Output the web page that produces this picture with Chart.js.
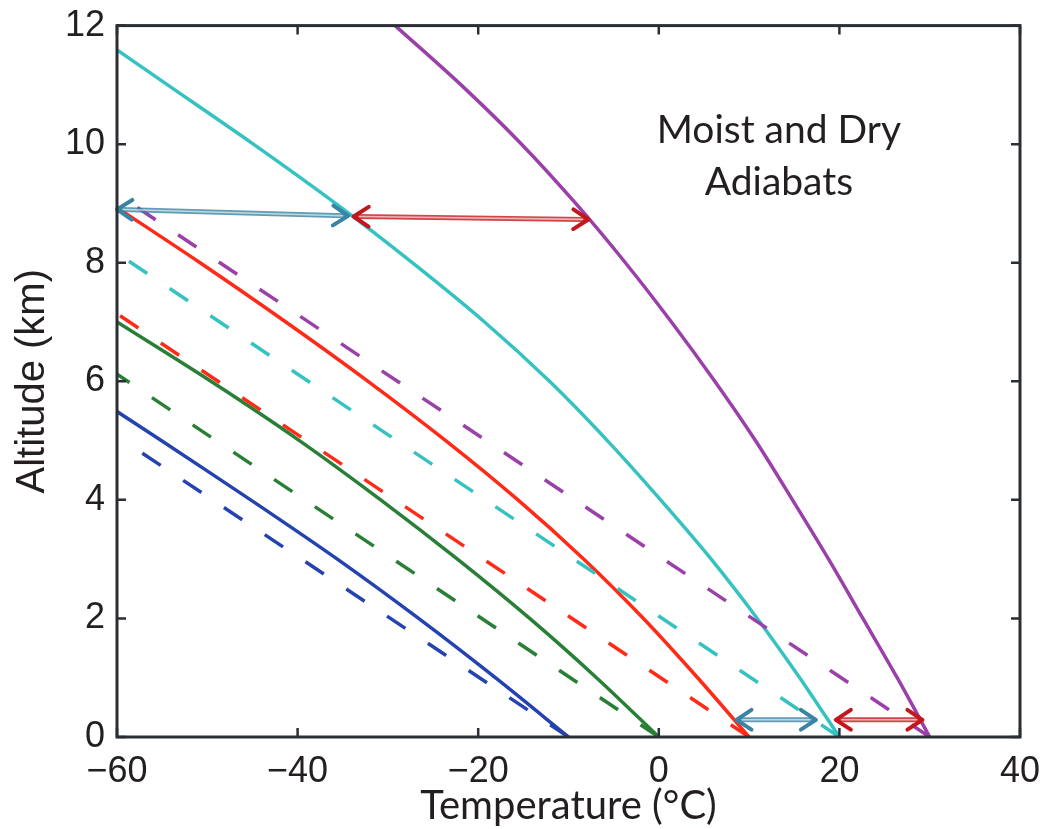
<!DOCTYPE html>
<html>
<head>
<meta charset="utf-8">
<script src="https://cdn.jsdelivr.net/npm/chart.js@4.4.1/dist/chart.umd.min.js"></script>
<style>
  html, body { margin: 0; padding: 0; background: #fff; }
  #wrap { width: 1051px; height: 829px; }
</style>
</head>
<body>
<div id="wrap"><canvas id="chart"></canvas></div>
<script>
// moist adiabats: altitude (km) and temperature (C)
var blueMoistAlt    = [0, 1, 2, 3, 4, 5, 5.49];
var blueMoistTemp   = [-10, -18.1, -26.6, -35.6, -45.2, -55.1, -60];
var greenMoistAlt   = [0, 1, 2, 3, 4, 5, 6, 7];
var greenMoistTemp  = [0, -6.9, -14.3, -22.3, -30.8, -39.8, -49.6, -60];
var redMoistAlt     = [0, 1, 2, 3, 4, 5, 6, 7, 8, 8.93];
var redMoistTemp    = [10, 4.3, -1.7, -8.3, -15.6, -23.6, -32.2, -41.3, -50.8, -60];
var cyanMoistAlt    = [0, 1, 2, 3, 4, 5, 6, 7, 8, 9, 10, 11, 11.59];
var cyanMoistTemp   = [20, 15.6, 10.9, 5.8, 0.2, -5.7, -12.1, -19.3, -27.3, -35.8, -44.9, -54.4, -60];
var purpleMoistAlt  = [0, 1, 2, 3, 4, 5, 6, 7, 8, 9, 10, 11, 12];
var purpleMoistTemp = [30, 26.4, 22.6, 18.8, 14.8, 10.7, 6.2, 1.4, -3.7, -9.2, -15.2, -21.9, -29.2];

// dry adiabats: straight lines from the surface to their top end
var dryBaseTemp = [-10, 0, 10, 20, 30];
var dryTopTemp  = [-58.3, -60, -60, -60, -59.6];
var dryTopAlt   = [4.9, 6.12, 7.14, 8.16, 9.12];

// double-headed arrows (blue, red, blue, red)
var arrowFromTemp = [-60, -33.8, 8.6, 19.6];
var arrowFromAlt  = [8.9, 8.78, 0.29, 0.29];
var arrowToTemp   = [-34.4, -7.8, 17.4, 29.2];
var arrowToAlt    = [8.79, 8.73, 0.29, 0.29];

var xTicks = [-60, -40, -20, 0, 20, 40];
var yTicks = [0, 2, 4, 6, 8, 10, 12];
var noteLines = ['Moist and Dry', 'Adiabats'];

var colors = ['#2443b0', '#2a7f37', '#ff2a17', '#36c2c0', '#9a40a8'];
var arrowColors = ['#3a83a4', '#c4161c', '#3a83a4', '#c4161c'];

function pts(alt, temp) {
  return alt.map(function(a, i) { return { x: temp[i], y: a }; });
}

var moist = [
  pts(blueMoistAlt, blueMoistTemp),
  pts(greenMoistAlt, greenMoistTemp),
  pts(redMoistAlt, redMoistTemp),
  pts(cyanMoistAlt, cyanMoistTemp),
  pts(purpleMoistAlt, purpleMoistTemp)
];

var datasets = [];
dryBaseTemp.forEach(function(t, i) {
  datasets.push({
    data: [{ x: t, y: 0 }, { x: dryTopTemp[i], y: dryTopAlt[i] }],
    borderColor: colors[i],
    borderWidth: 3.5,
    borderDash: [22, 27],
    pointRadius: 0,
    tension: 0
  });
});
moist.forEach(function(d, i) {
  datasets.push({
    data: d,
    borderColor: colors[i],
    borderWidth: 3.5,
    pointRadius: 0,
    tension: 0.3
  });
});

function drawArrow(ctx, x1, y1, x2, y2, color) {
  var ang = Math.atan2(y2 - y1, x2 - x1);
  var len = 18, spread = 0.58;
  ctx.save();
  ctx.lineCap = 'round';
  ctx.lineJoin = 'round';
  ctx.strokeStyle = color;
  ctx.globalAlpha = 0.8;
  ctx.lineWidth = 5;
  ctx.beginPath(); ctx.moveTo(x1 + 4 * Math.cos(ang), y1 + 4 * Math.sin(ang));
  ctx.lineTo(x2 - 4 * Math.cos(ang), y2 - 4 * Math.sin(ang)); ctx.stroke();
  ctx.globalAlpha = 1;
  ctx.strokeStyle = 'rgba(255,255,255,0.6)';
  ctx.lineWidth = 1.6;
  ctx.beginPath(); ctx.moveTo(x1 + 6 * Math.cos(ang), y1 + 6 * Math.sin(ang));
  ctx.lineTo(x2 - 6 * Math.cos(ang), y2 - 6 * Math.sin(ang)); ctx.stroke();
  ctx.strokeStyle = color;
  ctx.lineWidth = 4;
  [[x2, y2, ang + Math.PI], [x1, y1, ang]].forEach(function(h) {
    ctx.beginPath();
    ctx.moveTo(h[0] + len * Math.cos(h[2] - spread), h[1] + len * Math.sin(h[2] - spread));
    ctx.lineTo(h[0], h[1]);
    ctx.lineTo(h[0] + len * Math.cos(h[2] + spread), h[1] + len * Math.sin(h[2] + spread));
    ctx.stroke();
  });
  ctx.restore();
}

var decor = {
  id: 'decor',
  afterDatasetsDraw: function(chart) {
    var ctx = chart.ctx, a = chart.chartArea;
    var xs = chart.scales.x, ys = chart.scales.y;

    // arrows
    arrowFromTemp.forEach(function(t, i) {
      drawArrow(ctx, xs.getPixelForValue(t), ys.getPixelForValue(arrowFromAlt[i]),
        xs.getPixelForValue(arrowToTemp[i]), ys.getPixelForValue(arrowToAlt[i]), arrowColors[i]);
    });

    // note text
    ctx.save();
    ctx.fillStyle = '#231f20';
    ctx.font = '39px Lato, "Open Sans", sans-serif';
    ctx.textAlign = 'center';
    ctx.textBaseline = 'alphabetic';
    var nx = xs.getPixelForValue(13.3);
    ctx.fillText(noteLines[0], nx, ys.getPixelForValue(10.02));
    ctx.fillText(noteLines[1], nx, ys.getPixelForValue(9.15));
    ctx.restore();

    // box and inward ticks on all sides
    ctx.save();
    ctx.strokeStyle = '#2b2e33';
    ctx.lineWidth = 3;
    ctx.strokeRect(a.left, a.top, a.right - a.left, a.bottom - a.top);
    ctx.lineWidth = 2.5;
    ctx.beginPath();
    xTicks.forEach(function(v) {
      var px = xs.getPixelForValue(v);
      ctx.moveTo(px, a.bottom); ctx.lineTo(px, a.bottom - 9);
      ctx.moveTo(px, a.top); ctx.lineTo(px, a.top + 9);
    });
    yTicks.forEach(function(v) {
      var py = ys.getPixelForValue(v);
      ctx.moveTo(a.left, py); ctx.lineTo(a.left + 9, py);
      ctx.moveTo(a.right, py); ctx.lineTo(a.right - 9, py);
    });
    ctx.stroke();
    ctx.restore();
  }
};

var tickFont = { family: '"Liberation Sans", Arial, sans-serif', size: 36 };
function minus(v) { return String(v).replace('-', '\u2212'); }

var ctx = document.getElementById('chart').getContext('2d');
var adiabatChart = new Chart(ctx, {
  type: 'scatter',
  data: { datasets: datasets },
  options: {
    responsive: true,
    maintainAspectRatio: false,
    animation: false,
    showLine: true,
    layout: { padding: { top: 22, right: 31, left: 0, bottom: 0 } },
    plugins: { legend: { display: false }, tooltip: { enabled: false } },
    scales: {
      x: {
        type: 'linear',
        min: -60,
        max: 40,
        afterBuildTicks: function(s) { s.ticks = xTicks.map(function(v) { return { value: v }; }); },
        afterFit: function(s) { s.height = 92; },
        grid: { display: false },
        border: { display: false },
        ticks: { font: tickFont, color: '#231f20', padding: 5, maxRotation: 0, callback: minus },
        title: {
          display: true,
          text: 'Temperature (\u00b0C)',
          color: '#231f20',
          font: { family: 'Lato, "Open Sans", sans-serif', size: 40, lineHeight: 1.1 },
          padding: { top: 0, bottom: 1 }
        }
      },
      y: {
        type: 'linear',
        min: 0,
        max: 12,
        afterBuildTicks: function(s) { s.ticks = yTicks.map(function(v) { return { value: v }; }); },
        afterFit: function(s) { s.width = 117; },
        grid: { display: false },
        border: { display: false },
        ticks: { font: tickFont, color: '#231f20', padding: 4, callback: minus },
        title: {
          display: true,
          text: 'Altitude (km)',
          color: '#231f20',
          font: { family: '"Liberation Sans", Arial, sans-serif', size: 40 },
          padding: { top: 9, bottom: 0 }
        }
      }
    }
  },
  plugins: [decor]
});
</script>
</body>
</html>
